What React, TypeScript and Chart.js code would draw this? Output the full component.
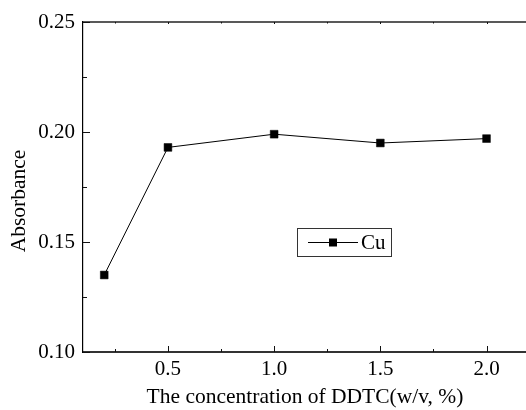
import React, { useEffect, useRef } from "react";
import { Chart, registerables } from "chart.js";

Chart.register(...registerables);

const concentrations = [0.2, 0.5, 1.0, 1.5, 2.0];
const cuAbsorbance = [0.135, 0.193, 0.199, 0.195, 0.197];
const xMajorTicks = [0.5, 1.0, 1.5, 2.0];
const xMinorTicks = [0.25, 0.75, 1.25, 1.75];
const yMajorTicks = [0.1, 0.15, 0.2, 0.25];
const yMinorTicks = [0.125, 0.175, 0.225];
const seriesLabel = "Cu";
const xTitle = "The concentration of DDTC(w/v, %)";
const yTitle = "Absorbance";

const FONT = "'Liberation Serif', 'Times New Roman', serif";

const decorPlugin = {
  id: "decor",
  afterDraw(chart: any) {
    const { ctx, chartArea, scales } = chart;
    const xs = scales.x;
    const ys = scales.y;
    ctx.save();
    // top axis line
    ctx.strokeStyle = "#222";
    ctx.lineWidth = 1.5;
    ctx.beginPath();
    ctx.moveTo(chartArea.left, chartArea.top);
    ctx.lineTo(chartArea.right + 10, chartArea.top);
    ctx.stroke();
    // ticks
    ctx.lineWidth = 1;
    ctx.strokeStyle = "#111";
    const bottom = chartArea.bottom;
    const top = chartArea.top;
    const left = chartArea.left;
    ctx.beginPath();
    xMajorTicks.forEach((v) => {
      const px = Math.round(xs.getPixelForValue(v)) + 0.5;
      ctx.moveTo(px, bottom);
      ctx.lineTo(px, bottom - 6);
      ctx.moveTo(px, top);
      ctx.lineTo(px, top + 2);
    });
    xMinorTicks.forEach((v) => {
      const px = Math.round(xs.getPixelForValue(v)) + 0.5;
      ctx.moveTo(px, bottom);
      ctx.lineTo(px, bottom - 3);
      ctx.moveTo(px, top);
      ctx.lineTo(px, top + 1.5);
    });
    yMajorTicks.forEach((v) => {
      const py = Math.round(ys.getPixelForValue(v)) + 0.5;
      ctx.moveTo(left, py);
      ctx.lineTo(left + 7, py);
    });
    yMinorTicks.forEach((v) => {
      const py = Math.round(ys.getPixelForValue(v)) + 0.5;
      ctx.moveTo(left, py);
      ctx.lineTo(left + 4, py);
    });
    ctx.stroke();

    // axis titles
    ctx.fillStyle = "#000";
    ctx.font = `21.5px ${FONT}`;
    ctx.textAlign = "center";
    ctx.textBaseline = "alphabetic";
    ctx.fillText(xTitle, 305, 403);
    ctx.save();
    ctx.translate(25, 201);
    ctx.rotate(-Math.PI / 2);
    ctx.fillText(yTitle, 0, 0);
    ctx.restore();

    // legend
    const bx = 297.5, by = 228.5, bw = 94, bh = 28;
    ctx.fillStyle = "#fff";
    ctx.fillRect(bx, by, bw, bh);
    ctx.strokeStyle = "#333";
    ctx.lineWidth = 1;
    ctx.strokeRect(bx, by, bw, bh);
    const cy = by + bh / 2;
    ctx.strokeStyle = "#000";
    ctx.beginPath();
    ctx.moveTo(308, cy);
    ctx.lineTo(358, cy);
    ctx.stroke();
    ctx.fillStyle = "#000";
    ctx.fillRect(329, cy - 4, 8, 8);
    ctx.font = `21px ${FONT}`;
    ctx.textAlign = "left";
    ctx.textBaseline = "middle";
    ctx.fillText(seriesLabel, 361, cy + 1);
    ctx.restore();
  },
};

export default function App() {
  const ref = useRef<HTMLCanvasElement | null>(null);
  useEffect(() => {
    if (!ref.current) return;
    const chart = new Chart(ref.current, {
      type: "line",
      data: {
        datasets: [
          {
            label: seriesLabel,
            data: concentrations.map((x, i) => ({ x, y: cuAbsorbance[i] })),
            borderColor: "#000",
            borderWidth: 1,
            backgroundColor: "#000",
            pointStyle: "rect",
            pointRadius: 5.5,
            pointBorderWidth: 0.5,
            pointBorderColor: "#000",
            pointBackgroundColor: "#000",
            tension: 0,
          },
        ],
      },
      options: {
        animation: false,
        responsive: true,
        maintainAspectRatio: false,
        layout: { padding: { top: 22, right: 1.5, left: 0, bottom: 0 } },
        plugins: { legend: { display: false }, tooltip: { enabled: false } },
        scales: {
          x: {
            type: "linear",
            min: 0.1,
            max: 2.2,
            afterBuildTicks: (s: any) => {
              s.ticks = xMajorTicks.map((v) => ({ value: v }));
            },
            afterFit: (s: any) => {
              s.height = 58;
              s.paddingLeft = 0;
              s.paddingRight = 0;
            },
            grid: { display: false, drawTicks: false },
            border: { display: true, color: "#333", width: 2 },
            ticks: {
              padding: 5,
              color: "#000",
              font: { family: FONT, size: 21 },
              maxRotation: 0,
              callback: (v: any) => Number(v).toFixed(1),
            },
          },
          y: {
            type: "linear",
            min: 0.1,
            max: 0.25,
            afterBuildTicks: (s: any) => {
              s.ticks = yMajorTicks.map((v) => ({ value: v }));
            },
            afterFit: (s: any) => {
              s.width = 83;
              s.paddingTop = 0;
              s.paddingBottom = 0;
            },
            grid: { display: false, drawTicks: false },
            border: { display: true, color: "#000", width: 1.2 },
            ticks: {
              padding: 8,
              color: "#000",
              font: { family: FONT, size: 21 },
              callback: (v: any) => Number(v).toFixed(2),
            },
          },
        },
      },
      plugins: [decorPlugin],
    });
    return () => chart.destroy();
  }, []);
  return (
    <div style={{ position: "fixed", left: 0, top: 0, width: 526, height: 410, overflow: "hidden", background: "#fff" }}>
      <div style={{ position: "relative", width: 535, height: 410 }}>
        <canvas ref={ref} />
      </div>
    </div>
  );
}
